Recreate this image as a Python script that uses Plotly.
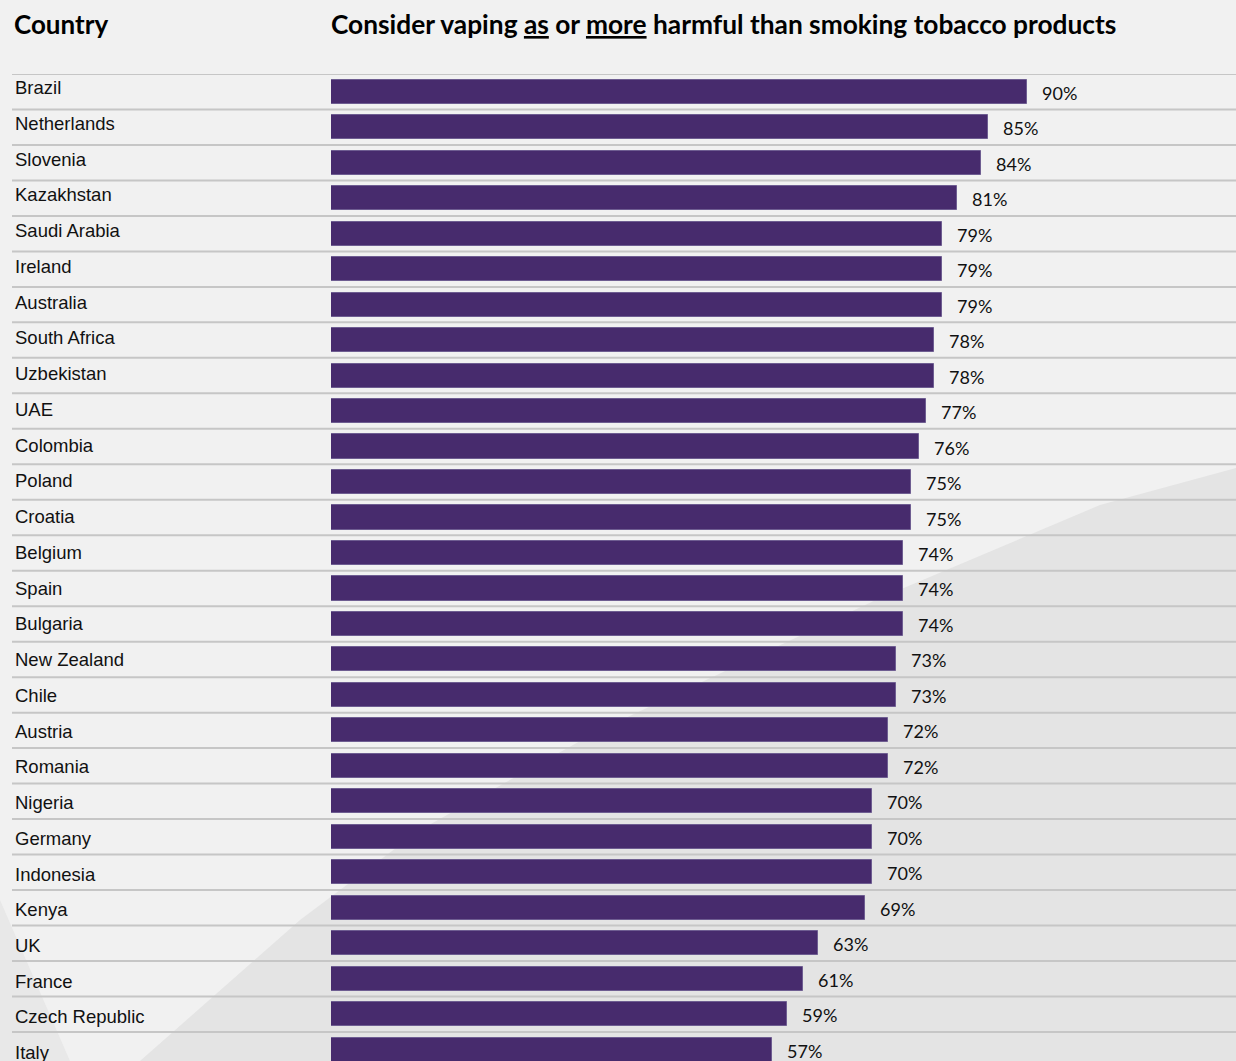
import plotly.graph_objects as go

countries = ["Brazil", "Netherlands", "Slovenia", "Kazakhstan", "Saudi Arabia", "Ireland",
             "Australia", "South Africa", "Uzbekistan", "UAE", "Colombia", "Poland", "Croatia",
             "Belgium", "Spain", "Bulgaria", "New Zealand", "Chile", "Austria", "Romania",
             "Nigeria", "Germany", "Indonesia", "Kenya", "UK", "France", "Czech Republic", "Italy"]
values = [90, 85, 84, 81, 79, 79, 79, 78, 78, 77, 76, 75, 75, 74, 74, 74, 73, 73, 72, 72,
          70, 70, 70, 69, 63, 61, 59, 57]

W, H = 1236, 1061
ML, MT = 331, 74
PW, PH = W - ML, H - MT
ROW = 35.48


def px(x):
    return (x - ML) / PW


def py(y):
    return (H - y) / PH


fig = go.Figure()
fig.add_trace(go.Bar(
    y=list(range(len(countries))), x=values, orientation="h",
    marker=dict(color="#472B6D", line=dict(color="#6E5D91", width=1)),
    width=0.68, hoverinfo="skip", showlegend=False,
))

shapes = []
# background swoosh
pts = [(1236, 468), (1100, 505), (880, 598), (600, 730), (420, 830), (300, 920), (140, 1061), (1236, 1061)]
path = "M " + " L ".join(f"{px(a)},{py(b)}" for a, b in pts) + " Z"
shapes.append(dict(type="path", xref="paper", yref="paper", path=path,
                   fillcolor="#e4e4e4", line=dict(width=0), layer="below"))
pts2 = [(0, 900), (70, 1061), (0, 1061)]
path2 = "M " + " L ".join(f"{px(a)},{py(b)}" for a, b in pts2) + " Z"
shapes.append(dict(type="path", xref="paper", yref="paper", path=path2,
                   fillcolor="#e8e8e8", line=dict(width=0), layer="below"))

for i in range(len(countries)):
    shapes.append(dict(type="line", xref="paper", yref="y", x0=px(12), x1=1,
                       y0=i - 0.5, y1=i - 0.5, line=dict(color="#c6c6c6", width=2), layer="below"))

annotations = []
for i, (c, v) in enumerate(zip(countries, values)):
    annotations.append(dict(xref="paper", yref="y", x=px(13), y=i, text=c, showarrow=False,
                            xanchor="left", yanchor="middle", yshift=4 - 0.26 * i,
                            font=dict(family="Liberation Sans, Arial", size=18.5, color="#111111")))
    annotations.append(dict(xref="x", yref="y", x=v, y=i, text=f"{v}%", showarrow=False,
                            xanchor="left", yanchor="middle", xshift=13, yshift=-1,
                            font=dict(family="Lato", size=18, color="#111111")))

annotations.append(dict(xref="paper", yref="paper", x=px(12), y=py(23.5), text="<b>Country</b>",
                        showarrow=False, xanchor="left", yanchor="middle",
                        font=dict(family="Lato", size=26, color="#000000")))
annotations.append(dict(xref="paper", yref="paper", x=px(723), y=py(23.5),
                        text="<b>Consider vaping <u>as</u> or <u>more</u> harmful than smoking tobacco products</b>",
                        showarrow=False, xanchor="center", yanchor="middle",
                        font=dict(family="Lato", size=26.3, color="#000000")))

n_vis = PH / ROW
fig.update_layout(
    width=W, height=H,
    margin=dict(l=ML, r=0, t=MT, b=0, pad=0),
    paper_bgcolor="#f1f1f1", plot_bgcolor="rgba(0,0,0,0)",
    xaxis=dict(range=[0, PW / 7.733], visible=False, fixedrange=True),
    yaxis=dict(range=[n_vis - 0.5, -0.5], visible=False, fixedrange=True),
    shapes=shapes, annotations=annotations, bargap=0,
)

fig.write_html("out.html", config={"displayModeBar": False},
               post_script="document.body.style.margin='0';document.body.style.overflow='hidden';")
